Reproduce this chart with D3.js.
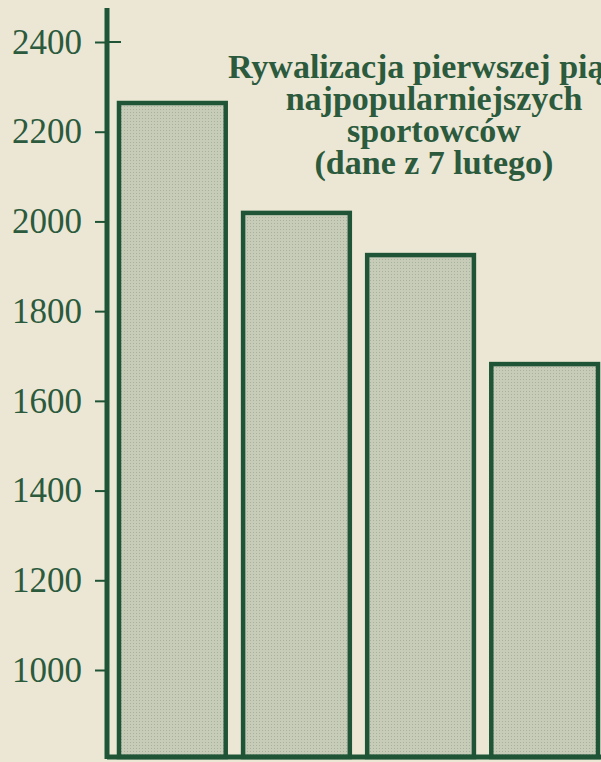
<!DOCTYPE html>
<html>
<head>
<meta charset="utf-8">
<script src="https://cdn.jsdelivr.net/npm/d3@7"></script>
<style>
  body { margin: 0; background: #ebe7d4; }
  svg { display: block; }
</style>
</head>
<body>
<div id="chart"></div>
<script>
// values
var categories = ["1", "2", "3", "4"];
var values = [2264, 2019, 1925, 1682];
var tickValues = [1000, 1200, 1400, 1600, 1800, 2000, 2200, 2400];
var titleLines = ["Rywalizacja pierwszej piątki", "najpopularniejszych", "sportowców", "(dane z 7 lutego)"];

var GREEN = "#1f5536",
    TEXT = "#2b5a3d",
    BAR = "#c7ccb8",
    PAPER = "#ebe7d4";

var width = 601, height = 762;

var svg = d3.select("#chart").append("svg")
    .attr("width", width)
    .attr("height", height);

svg.append("rect")
    .attr("width", width)
    .attr("height", height)
    .attr("fill", PAPER);

// halftone-ish dots for the bars
var pat = svg.append("defs").append("pattern")
    .attr("id", "dots")
    .attr("patternUnits", "userSpaceOnUse")
    .attr("width", 3)
    .attr("height", 3);
pat.append("rect").attr("width", 3).attr("height", 3).attr("fill", BAR);
pat.append("rect").attr("x", 1).attr("y", 1).attr("width", 1).attr("height", 1).attr("fill", "#a9b09b");

var y = d3.scaleLinear()
    .domain([1000, 2400])
    .range([670, 42]);

var axisX = 107,
    baseY = 757,
    topY = 8;

var x = d3.scaleBand()
    .domain(categories)
    .range([119, 598])
    .paddingInner(0.14)
    .paddingOuter(0);

// bars
svg.selectAll(".bar")
    .data(values)
  .enter().append("rect")
    .attr("class", "bar")
    .attr("x", function(d, i) { return x(categories[i]); })
    .attr("y", function(d) { return y(d); })
    .attr("width", x.bandwidth())
    .attr("height", function(d) { return baseY - y(d); })
    .attr("fill", "url(#dots)")
    .attr("stroke", GREEN)
    .attr("stroke-width", 4.5);

// baseline
svg.append("line")
    .attr("x1", axisX).attr("x2", width)
    .attr("y1", baseY).attr("y2", baseY)
    .attr("stroke", GREEN)
    .attr("stroke-width", 5);

// y axis
var yAxis = d3.axisLeft(y)
    .tickValues(tickValues)
    .tickSize(12)
    .tickPadding(13)
    .tickFormat(d3.format("d"));

var gy = svg.append("g")
    .attr("transform", "translate(" + axisX + ",0)")
    .call(yAxis);

gy.select(".domain").remove();
gy.selectAll(".tick line")
    .attr("stroke", GREEN)
    .attr("stroke-width", 2);
gy.selectAll(".tick text")
    .attr("fill", TEXT)
    .style("font-family", "'Liberation Serif', 'DejaVu Serif', serif")
    .style("font-size", "35px");

// the top tick crosses the axis
svg.append("line")
    .attr("x1", axisX).attr("x2", axisX + 14)
    .attr("y1", y(2400)).attr("y2", y(2400))
    .attr("stroke", GREEN)
    .attr("stroke-width", 2);

svg.append("line")
    .attr("x1", axisX).attr("x2", axisX)
    .attr("y1", topY).attr("y2", baseY + 2)
    .attr("stroke", GREEN)
    .attr("stroke-width", 5);

// title
svg.append("text")
    .attr("fill", TEXT)
    .style("font-family", "'Liberation Serif', 'DejaVu Serif', serif")
    .style("font-weight", "bold")
    .style("font-size", "34px")
    .selectAll("tspan")
    .data(titleLines)
  .enter().append("tspan")
    .attr("x", function(d, i) { return i === 0 ? 228 : 434; })
    .attr("text-anchor", function(d, i) { return i === 0 ? "start" : "middle"; })
    .attr("y", function(d, i) { return 78 + i * 32; })
    .text(function(d) { return d; });
</script>
</body>
</html>
